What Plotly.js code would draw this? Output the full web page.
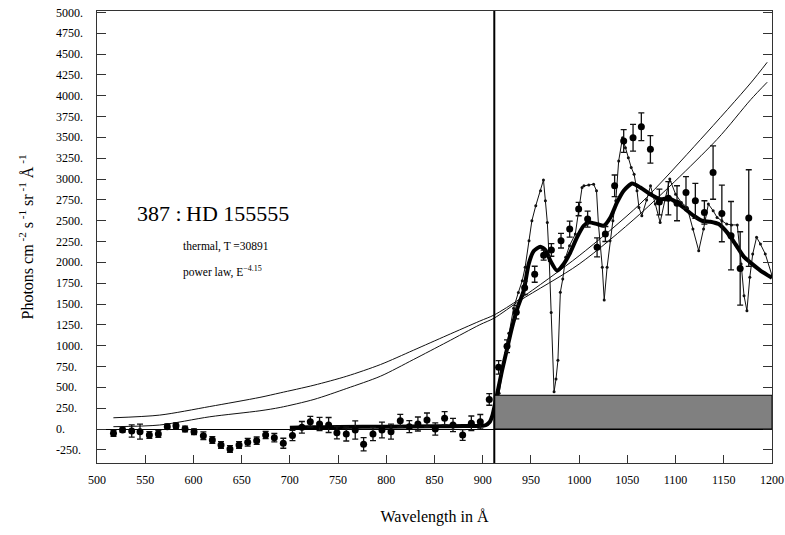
<!DOCTYPE html>
<html>
<head>
<meta charset="utf-8">
<script src="https://cdn.plot.ly/plotly-3.0.1.min.js"></script>
<style>html,body{margin:0;padding:0;background:#fff;}#chart{width:785px;height:535px;}</style>
</head>
<body>
<div id="chart"></div>
<script>
// ---- observed data points with error bars ----
const obsWave = [517.1,526.5,536.0,544.6,554.3,563.6,572.9,581.9,591.3,600.6,610.3,619.6,628.6,637.9,647.3,656.3,665.6,674.9,683.9,693.2,
  702.7,712.5,721.2,730.8,740.2,748.8,758.5,767.8,776.5,786.2,795.5,804.9,814.5,823.9,832.8,842.2,850.8,860.5,869.2,879.2,888.2,897.5,906.8,
  916.5,925.2,934.8,943.5,953.9,963.2,971.2,981.2,990.2,999.5,1008.8,1018.6,1027.2,1036.8,1046.2,1055.9,1064.5,1073.9,1083.2,1092.5,1101.5,
  1110.8,1120.5,1129.9,1138.9,1148.0,1157.5,1167.0,1175.9];
const obsFlux = [-52,-12,-24,-32,-72,-60,28,40,0,-32,-80,-132,-191,-239,-191,-159,-140,-72,-104,-171,
  -78,20,88,60,48,-44,-60,-12,-183,-60,-12,-32,100,28,60,108,0,128,48,-72,68,88,355,
  740,993,1403,1695,1858,2087,2150,2261,2400,2640,2520,2181,2341,2919,3457,3497,3628,3357,2725,2770,2710,
  2839,2739,2600,3078,2588,2321,1928,2532];
const obsErr = [36,25,74,90,40,40,32,34,34,34,46,40,40,40,40,46,44,44,50,60,
  62,70,64,80,90,74,84,110,80,80,94,90,76,72,84,84,74,80,80,64,88,86,70,
  80,76,80,80,96,60,76,88,96,80,96,114,90,130,136,160,166,166,154,200,210,
  190,210,140,320,340,410,440,580];

// ---- smoothed model (thick curve) ----
const fitWave = [700,720,750,800,850,880,900,903,907,910,912,915,920,925,930,936,942.5,947.7,952.9,959.8,965,970.1,977,984,990.9,997.8,
  1004.7,1009.9,1018.6,1025.5,1032.4,1039.3,1046.2,1054.9,1063.5,1073.8,1084.2,1092.9,1101.5,1110.2,1118.8,1127.4,1136.1,1144.7,1153.4,
  1162,1170.7,1179.3,1188,1200];
const fitFlux = [15,20,24,28,32,36,40,45,80,160,260,420,700,950,1200,1450,1663,1982,2137,2188,2149,2022,1902,1982,2121,2300,
  2440,2480,2460,2440,2540,2720,2860,2947,2899,2819,2759,2771,2719,2640,2560,2500,2488,2460,2360,
  2221,2069,1982,1902,1814];

// ---- full-resolution model (dotted curve) ----
const modelWave = [914,917,922,927,932,937,941,944,948,951,955,960,963,965,967,969,971,974,976,978,980.5,983,986,990,996,999.5,1003,1005,
  1010,1015,1018,1020,1024,1026,1029,1032,1035,1038,1041,1045,1048,1051,1054,1057,1060,1062,1065,1070,1074,1079,1084,1089,1094,
  1100,1106,1112,1118,1124,1129,1134,1139,1143,1148,1153,1158,1164,1168,1171,1174,1177,1180,1184,1188,1193,1200];
const modelFlux = [100,430,800,1150,1450,1640,1780,1942,2261,2500,2680,2860,2990,2740,2480,2021,1400,446,600,825,1642,1800,2061,2200,2340,2640,2899,2919,
  2930,2939,2859,2460,1942,1550,1942,2261,2500,2740,3218,3497,3377,3257,3140,3058,2859,2660,2560,2750,2919,2700,2480,2750,3000,
  2819,2720,2660,2400,2141,2400,2700,2620,2540,2500,2460,2450,2450,1982,1600,1420,1822,2100,2301,2220,2102,1842];

// ---- power law and thermal curves ----
const powerWave = [517,565,617,669,690,725,759,794,828,863,897,912,939,1000,1063,1126,1178,1195];
const powerFlux = [135,167,270,380,434,526,634,774,945,1124,1296,1370,1565,2080,2700,3477,4155,4402];
const thermalWave = [517,565,617,669,690,725,759,794,828,863,897,912,939,1000,1063,1143,1178,1195];
const thermalFlux = [28,48,147,219,259,355,487,634,833,1044,1252,1332,1545,1980,2580,3477,3955,4163];

// ---- axes ----
const xTickVals = [500,550,600,650,700,750,800,850,900,950,1000,1050,1100,1150,1200];
const xTickText = ['500','550','600','650','700','750','800','850','900','950','1000','1050','1100','1150','1200'];
const yTickVals = [-250,0,250,500,750,1000,1250,1500,1750,2000,2250,2500,2750,3000,3250,3500,3750,4000,4250,4500,4750,5000];
const yTickText = ['-250.','0.','250.','500.','750.','1000.','1250.','1500.','1750.','2000.','2250.','2500.','2750.','3000.','3250.','3500.','3750.','4000.','4250.','4500.','4750.','5000.'];

const lymanLimit = 912;
const boxTop = 405;

const serif = '"Liberation Serif", "DejaVu Serif", serif';

const traces = [
  {x: powerWave, y: powerFlux, mode: 'lines', line: {color: '#111', width: 1, shape: 'spline', smoothing: 0.8}, hoverinfo: 'skip'},
  {x: thermalWave, y: thermalFlux, mode: 'lines', line: {color: '#111', width: 1, shape: 'spline', smoothing: 0.8}, hoverinfo: 'skip'},
  {x: modelWave, y: modelFlux, mode: 'lines+markers', line: {color: '#111', width: 1}, marker: {color: '#111', size: 3}},
  {x: fitWave, y: fitFlux, mode: 'lines', line: {color: '#000', width: 4, shape: 'spline', smoothing: 0.6}},
  {x: obsWave, y: obsFlux, mode: 'markers', marker: {color: '#000', size: 7},
   error_y: {type: 'data', array: obsErr, visible: true, color: '#111', thickness: 1.3, width: 3}}
];

const annotations = yTickVals.map((v, i) => ({
  xref: 'paper', yref: 'y', x: -0.0637, y: v, xanchor: 'left', yanchor: 'middle',
  text: yTickText[i], showarrow: false, font: {family: serif, size: 12, color: '#000'}
}));
annotations.push(
  {xref: 'x', yref: 'y', x: 539.6, y: 2593, xanchor: 'left', yanchor: 'middle', showarrow: false,
   text: '387 :\u2009HD 155555', font: {family: serif, size: 22, color: '#000'}},
  {xref: 'x', yref: 'y', x: 587.3, y: 2197, xanchor: 'left', yanchor: 'middle', showarrow: false,
   text: 'thermal, T =30891', font: {family: serif, size: 11.5, color: '#000'}},
  {xref: 'x', yref: 'y', x: 587.3, y: 1885, xanchor: 'left', yanchor: 'middle', showarrow: false,
   text: 'power law, E<sup>\u22124.15</sup>', font: {family: serif, size: 11.5, color: '#000'}}
);

const layout = {
  width: 785, height: 535,
  margin: {l: 97, r: 13, t: 11, b: 72},
  paper_bgcolor: '#fff', plot_bgcolor: '#fff',
  showlegend: false,
  font: {family: serif, color: '#000'},
  xaxis: {
    range: [500, 1200], showgrid: false, zeroline: false,
    tickmode: 'array', tickvals: xTickVals, ticktext: xTickText,
    ticks: 'inside', ticklen: 8, tickcolor: '#333', tickwidth: 1,
    showline: true, linecolor: '#333', linewidth: 1, mirror: true,
    tickfont: {family: serif, size: 12, color: '#000'}, ticklabelstandoff: 6,
    title: {text: 'Wavelength in Å', font: {family: serif, size: 16, color: '#000'}, standoff: 24}
  },
  yaxis: {
    range: [-408, 5018], showgrid: false,
    zeroline: true, zerolinecolor: '#000', zerolinewidth: 1,
    tickmode: 'array', tickvals: yTickVals, showticklabels: false,
    ticks: 'inside', ticklen: 9, tickcolor: '#333', tickwidth: 1,
    showline: true, linecolor: '#333', linewidth: 1, mirror: 'ticks',
    title: {text: 'Photons cm<sup> -2</sup> s<sup> -1</sup> sr<sup> -1</sup> Å<sup> -1</sup>', font: {family: serif, size: 16, color: '#000'}, standoff: 58}
  },
  shapes: [
    {type: 'rect', layer: 'above', xref: 'x', yref: 'y', x0: lymanLimit, x1: 1200, y0: 0, y1: boxTop,
     fillcolor: '#808080', line: {color: '#000', width: 1}},
    {type: 'line', layer: 'above', xref: 'x', yref: 'paper', x0: lymanLimit, x1: lymanLimit, y0: 0, y1: 1,
     line: {color: '#000', width: 2}}
  ],
  annotations: annotations
};

Plotly.newPlot('chart', traces, layout, {displayModeBar: false, staticPlot: true});
</script>
</body>
</html>
